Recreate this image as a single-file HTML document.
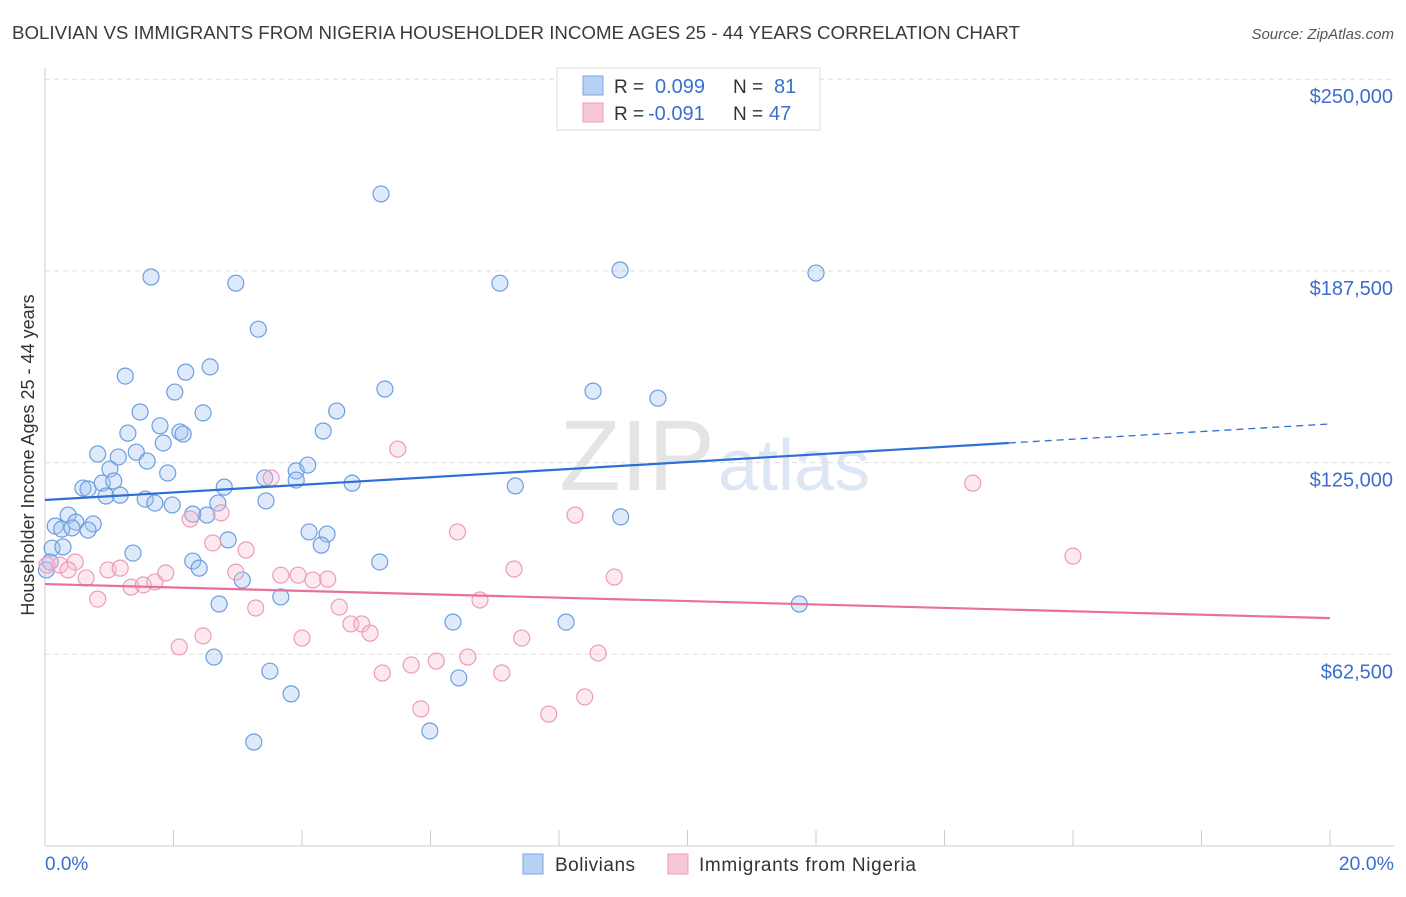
<!DOCTYPE html>
<html><head><meta charset="utf-8"><style>
body{margin:0;background:#fff;font-family:"Liberation Sans",sans-serif;}
svg text{font-family:"Liberation Sans",sans-serif;}
</style></head><body>
<svg id="chart" width="1406" height="892" xmlns="http://www.w3.org/2000/svg">
<text x="12" y="39" font-size="18" textLength="1008" lengthAdjust="spacingAndGlyphs" fill="#3a3a3a">BOLIVIAN VS IMMIGRANTS FROM NIGERIA HOUSEHOLDER INCOME AGES 25 - 44 YEARS CORRELATION CHART</text>
<text x="1394" y="39" font-size="15" fill="#555" font-style="italic" text-anchor="end">Source: ZipAtlas.com</text>
<text x="715" y="490" font-size="100" fill="#e4e4e4" font-family="Liberation Serif" text-anchor="end">ZIP</text>
<text x="718" y="490" font-size="72" fill="#dce6f5">atlas</text>
<g id="grid"></g>
<g id="axes"></g>
<g id="pts"></g>
<g id="lines"></g>
<text transform="translate(34,455) rotate(-90)" font-size="18" fill="#333" text-anchor="middle">Householder Income Ages 25 - 44 years</text>
<text x="45" y="870" font-size="19" fill="#3a6fd0">0.0%</text>
<text x="1394" y="870" font-size="19.5" fill="#3a6fd0" text-anchor="end">20.0%</text>
<g>
<rect x="557" y="68" width="263" height="62" fill="#fff" stroke="#ddd"/>
<rect x="583" y="76" width="20" height="19" fill="#b8d1f3" stroke="#7aa6e6"/>
<rect x="583" y="103" width="20" height="19" fill="#f9c8d6" stroke="#ec9bb5"/>
<text x="614" y="93" font-size="19" fill="#333">R =</text>
<text x="655" y="93" font-size="20" fill="#3a6fd0">0.099</text>
<text x="733" y="93" font-size="19" fill="#333">N =</text>
<text x="774" y="93" font-size="20" fill="#3a6fd0">81</text>
<text x="614" y="120" font-size="19" fill="#333">R =</text>
<text x="648" y="120" font-size="20" fill="#3a6fd0">-0.091</text>
<text x="733" y="120" font-size="19" fill="#333">N =</text>
<text x="769" y="120" font-size="20" fill="#3a6fd0">47</text>
</g>
<g>
<rect x="523" y="854" width="20" height="20" fill="#b8d1f3" stroke="#7aa6e6"/>
<text x="555" y="871" font-size="19" textLength="80" fill="#333">Bolivians</text>
<rect x="668" y="854" width="20" height="20" fill="#f9c8d6" stroke="#ec9bb5"/>
<text x="699" y="871" font-size="19" textLength="217" fill="#333">Immigrants from Nigeria</text>
</g>
</svg>
<script>
const yTicks=[62.5,125,187.5,250];
const yTickLabels=["$62,500","$125,000","$187,500","$250,000"];
const xTicks=[0,2,4,6,8,10,12,14,16,18,20];
const bolX=[5.23,1.65,2.97,7.08,8.95,12.0,3.32,1.25,2.57,2.19,2.02,5.29,8.53,9.54,1.48,2.46,4.54,1.29,1.79,2.1,2.15,4.33,1.84,0.82,1.14,1.42,1.59,1.01,1.91,3.91,4.09,3.42,3.91,4.78,7.32,0.59,0.67,0.89,1.07,2.79,0.95,1.17,1.56,1.71,1.98,2.69,3.44,0.36,2.3,2.52,8.96,0.16,0.48,0.75,0.26,0.42,0.67,4.11,4.39,2.85,4.3,0.11,0.28,1.37,2.3,2.4,5.21,0.08,0.02,3.07,3.67,2.71,11.74,6.35,8.11,2.63,3.5,6.44,3.83,5.99,3.25];
const bolY=[212.6,185.5,183.5,183.5,187.8,186.8,168.5,153.2,156.2,154.5,148,149,148.3,146,141.5,141.2,141.8,134.6,137,135,134.3,135.3,131.4,127.8,126.8,128.4,125.5,122.9,121.6,122.3,124.2,120,119.3,118.3,117.4,116.7,116.4,118.3,119,117,114.1,114.4,113.1,111.8,111.2,111.8,112.5,107.9,108.2,107.9,107.3,104.3,105.6,105,103.3,103.7,103,102.4,101.7,99.8,98.1,97.1,97.5,95.5,92.9,90.6,92.6,92.6,90,86.7,81.2,78.9,78.9,73,73,61.6,57,54.8,49.6,37.5,33.9];
const nigX=[0.03,0.23,0.47,0.36,0.64,0.82,0.98,1.17,1.34,1.53,1.71,1.88,2.26,2.61,2.74,2.97,3.13,3.28,3.52,3.67,3.94,4.17,4.4,4.58,4.76,4.93,5.06,5.25,5.49,5.7,5.85,6.09,6.42,6.58,6.77,7.11,7.3,7.42,7.84,8.25,8.4,8.61,8.86,2.09,2.46,4.0,14.44,16.0];
const nigY=[91.6,91.6,92.6,90,87.4,80.5,90,90.6,84.4,85.1,86.1,89,106.6,98.8,108.6,89.3,96.5,77.6,120,88.3,88.3,86.7,87,77.9,72.4,72.4,69.4,56.4,129.4,59,44.7,60.3,102.4,61.6,80.2,56.4,90.3,67.8,43,107.9,48.6,62.9,87.7,64.9,68.5,67.8,118.3,94.5];
const bolTrend=[112.8,137.6];
const nigTrend=[85.4,74.3];
const NS="http://www.w3.org/2000/svg";
const X0=45,X1=1330,YB=846,PXPK=191.7/62.5;
const sx=v=>X0+v/20*(X1-X0);
const sy=v=>YB-v*PXPK;
function mk(tag,attrs,parent){const e=document.createElementNS(NS,tag);for(const k in attrs)e.setAttribute(k,attrs[k]);document.getElementById(parent).appendChild(e);return e;}
yTicks.forEach((t,i)=>{
 const l=mk('line',{x1:45,x2:1394,y1:sy(t),y2:sy(t),stroke:'#ddd','stroke-dasharray':'5,4'},'grid');
 
 
 const tx=mk('text',{x:1393,y:sy(t)+24,'font-size':20,fill:'#3a6fd0','text-anchor':'end'},'grid');
 tx.textContent=yTickLabels[i];
 
 
});
const ax=mk('line',{x1:45,x2:1394,y1:YB,y2:YB,stroke:'#ccc'},'axes');


const ay=mk('line',{x1:45,x2:45,y1:68,y2:YB,stroke:'#ccc'},'axes');


xTicks.forEach(t=>{
 const l=mk('line',{x1:sx(t),x2:sx(t),y1:830,y2:YB,stroke:'#ccc'},'axes');
 
 
});
bolX.forEach((x,i)=>{
 const c=mk('circle',{cx:sx(x),cy:sy(bolY[i]),r:8,fill:'rgba(160,196,240,0.35)',stroke:'#6d9de2','stroke-width':1.2},'pts');
 
 
});
nigX.forEach((x,i)=>{
 const c=mk('circle',{cx:sx(x),cy:sy(nigY[i]),r:8,fill:'rgba(248,190,210,0.35)',stroke:'#eb9cb8','stroke-width':1.2},'pts');
 
 
});
const bAt=x=>bolTrend[0]+(bolTrend[1]-bolTrend[0])*x/20;
const xs=15;
const b1=mk('line',{x1:sx(0),y1:sy(bAt(0)),x2:sx(xs),y2:sy(bAt(xs)),stroke:'#2c6fd6','stroke-width':2.2},'lines');


const b2=mk('line',{x1:sx(xs),y1:sy(bAt(xs)),x2:sx(20),y2:sy(bAt(20)),stroke:'#2c6fd6','stroke-width':1.3,'stroke-dasharray':'7,5'},'lines');


const n1=mk('line',{x1:sx(0),y1:sy(nigTrend[0]),x2:sx(20),y2:sy(nigTrend[1]),stroke:'#e8709a','stroke-width':2.2},'lines');


</script>
</body></html>
